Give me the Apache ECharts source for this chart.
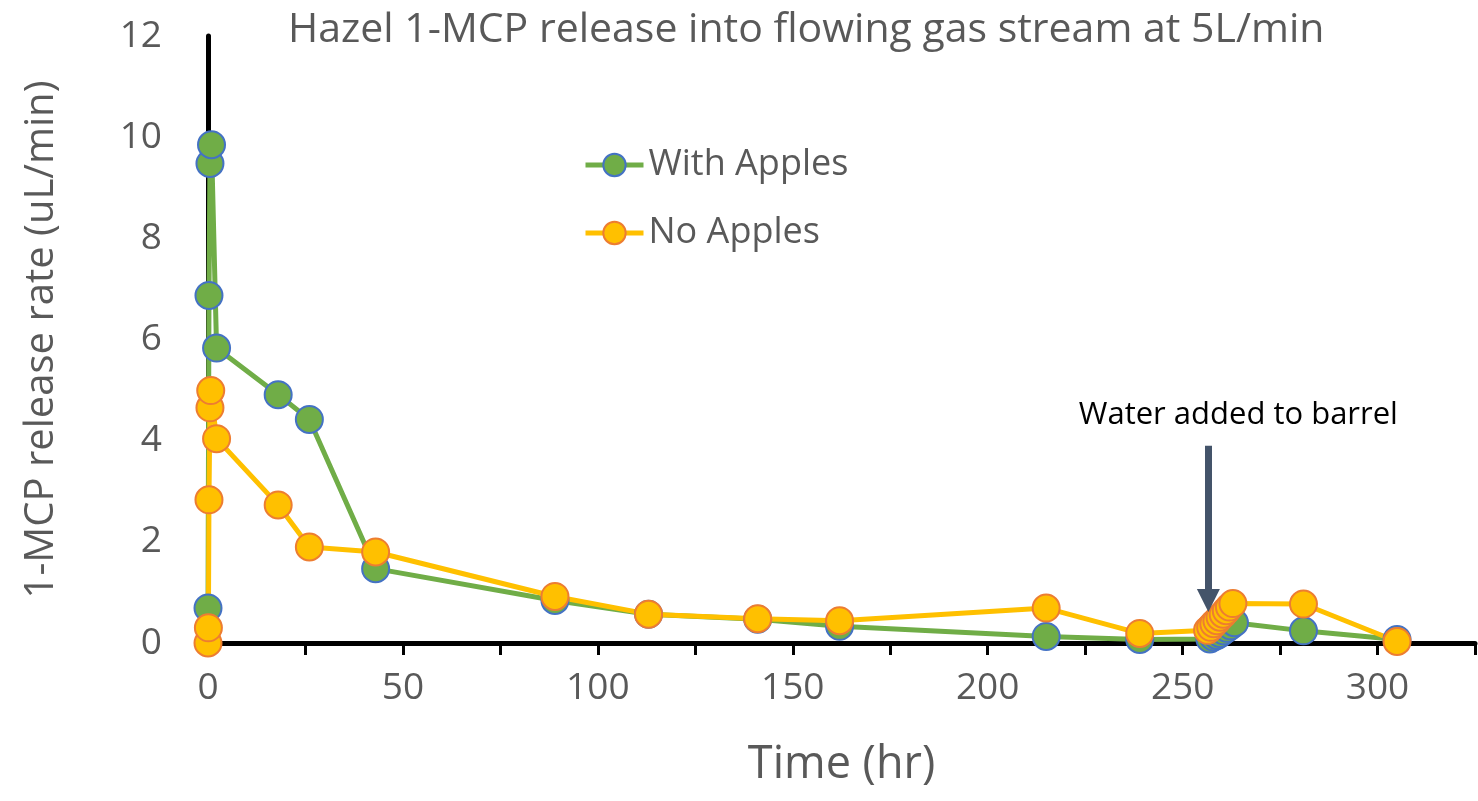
<!DOCTYPE html>
<html>
<head>
<meta charset="utf-8">
<script src="https://cdn.jsdelivr.net/npm/echarts@6/dist/echarts.min.js"></script>
<style>
  html, body { margin: 0; padding: 0; background: #fff; }
  #chart { width: 1478px; height: 801px; }
</style>
</head>
<body>
<div id="chart"></div>
<script>
// hours since start, release rate (uL/min)
const withTime = [0, 0.25, 0.5, 0.9, 2.2, 18, 26, 43, 89, 113, 141, 162, 215, 239,
  257.0, 257.9, 258.8, 259.6, 260.5, 261.4, 262.3, 263.3, 281, 305]
const withRate = [0.69, 6.87, 9.48, 9.85, 5.83, 4.91, 4.42, 1.47, 0.84, 0.57, 0.47, 0.33, 0.13, 0.07,
  0.08, 0.12, 0.15, 0.19, 0.24, 0.29, 0.34, 0.40, 0.24, 0.07]
const noTime = [0, 0.1, 0.25, 0.5, 0.7, 2.2, 18, 26, 43, 89, 113, 141, 162, 215, 239,
  256.4, 257.2, 258.0, 258.8, 259.6, 260.4, 261.2, 262.0, 262.9, 281, 305]
const noRate = [0, 0.30, 2.83, 4.65, 4.99, 4.04, 2.73, 1.90, 1.80, 0.92, 0.57, 0.48, 0.44, 0.69, 0.19,
  0.25, 0.31, 0.38, 0.44, 0.51, 0.57, 0.64, 0.71, 0.78, 0.77, 0.03]
const seriesNames = ['With Apples', 'No Apples']
const xTicks = { min: 0, max: 325, step: 25, labelStep: 50 }
const yTicks = { min: 0, max: 12, step: 2 }
// annotation: arrow at the water addition
const waterNote = 'Water added to barrel'
const waterX = 256.6
const waterArrow = [3.9, 0.84]
const waterLabelAt = [264.3, 4.5]

const font = 'Open Sans'
const grey = '#595959'

function zip(xs, ys) {
  return xs.map((x, i) => [x, ys[i]])
}

const chart = echarts.init(document.getElementById('chart'))
chart.setOption({
  animation: false,
  title: {
    text: 'Hazel 1-MCP release into flowing gas stream at 5L/min',
    left: 283,
    top: 5,
    textStyle: { fontFamily: font, fontSize: 41, fontWeight: 'normal', color: grey }
  },
  legend: {
    orient: 'vertical',
    left: 578,
    top: 140,
    itemWidth: 58,
    itemHeight: 28,
    itemGap: 28,
    lineStyle: { width: 5 },
    textStyle: { fontFamily: font, fontSize: 36, color: grey, lineHeight: 40 },
    data: seriesNames
  },
  grid: { left: 208, right: 3, top: 36, bottom: 158 },
  xAxis: {
    type: 'value',
    min: xTicks.min,
    max: xTicks.max,
    interval: xTicks.step,
    name: 'Time (hr)',
    nameLocation: 'middle',
    nameGap: 100,
    nameTextStyle: { fontFamily: font, fontSize: 45, color: grey },
    axisLine: { onZero: false, lineStyle: { color: '#000', width: 5 } },
    axisTick: { show: true, length: 12, lineStyle: { color: '#000', width: 3 } },
    axisLabel: {
      margin: 27,
      fontFamily: font, fontSize: 37, color: grey,
      formatter: v => (v % xTicks.labelStep === 0 ? String(v) : '')
    },
    splitLine: { show: false }
  },
  yAxis: {
    type: 'value',
    min: yTicks.min,
    max: yTicks.max,
    interval: yTicks.step,
    name: '1-MCP release rate (uL/min)',
    nameLocation: 'middle',
    nameGap: 146,
    nameTextStyle: { fontFamily: font, fontSize: 40, color: grey },
    axisLine: { show: true, lineStyle: { color: '#000', width: 5 } },
    axisTick: { show: false },
    axisLabel: { margin: 46, fontFamily: font, fontSize: 37, color: grey },
    splitLine: { show: false }
  },
  series: [
    {
      name: seriesNames[0],
      type: 'line',
      data: zip(withTime, withRate),
      symbol: 'circle',
      symbolSize: 27,
      lineStyle: { color: '#70AD47', width: 5 },
      itemStyle: { color: '#70AD47', borderColor: '#4472C4', borderWidth: 2 }
    },
    {
      name: seriesNames[1],
      type: 'line',
      data: zip(noTime, noRate),
      symbol: 'circle',
      symbolSize: 27,
      lineStyle: { color: '#FFC000', width: 5 },
      itemStyle: { color: '#FFC000', borderColor: '#ED7D31', borderWidth: 2 },
      markLine: {
        silent: true,
        symbol: ['none', 'triangle'],
        symbolSize: 23,
        lineStyle: { color: '#44546A', width: 7, type: 'solid' },
        label: { show: false },
        data: [[{ coord: [waterX, waterArrow[0]] }, { coord: [waterX, waterArrow[1]] }]]
      },
      markPoint: {
        silent: true,
        symbol: 'circle',
        symbolSize: 0,
        label: {
          show: true,
          formatter: waterNote,
          fontFamily: font, fontSize: 31, color: '#000'
        },
        data: [{ coord: waterLabelAt }]
      }
    }
  ]
})
</script>
</body>
</html>
